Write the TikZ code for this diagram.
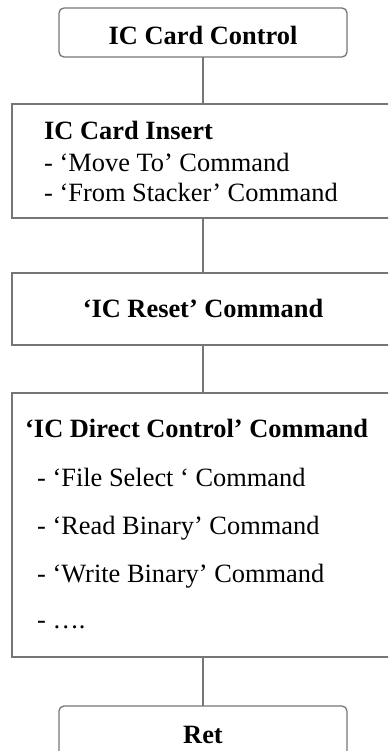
\documentclass[tikz,border=0pt]{standalone}
\usepackage{fontspec}
\setmainfont{Liberation Serif}
\definecolor{lc}{RGB}{118,118,118}
\begin{document}
\begin{tikzpicture}[x=1pt,y=-1pt,
  box/.style={draw=lc, line width=1.3pt, inner sep=0pt, outer sep=0pt, anchor=north west},
  rbox/.style={box, rounded corners=5pt},
  conn/.style={draw=lc, line width=1.3pt},
  txt/.style={inner sep=0pt, font=\fontsize{26.4}{30}\selectfont}]
\useasboundingbox (0,0) rectangle (388,751);
\clip (0,0) rectangle (388,751);
% boxes
\node[rbox, minimum width=288pt, minimum height=49pt] (b1) at (59,8) {};
\node[box, minimum width=420pt, minimum height=114pt] (b2) at (12,104) {};
\node[box, minimum width=420pt, minimum height=72pt] (b3) at (12,273) {};
\node[box, minimum width=420pt, minimum height=264pt] (b4) at (12,393) {};
\node[rbox, minimum width=288pt, minimum height=60pt] (b5) at (59,706) {};
% texts
\node[txt, anchor=base] (t1) at (203,45) {\bfseries IC Card Control};
\node[txt, anchor=base west] (t2a) at (44,140) {\bfseries IC Card Insert};
\node[txt, anchor=base west] (t2b) at (44,172) {- ‘Move To’ Command};
\node[txt, anchor=base west] (t2c) at (44,202) {- ‘From Stacker’ Command};
\node[txt, anchor=base] (t3) at (203,317) {\bfseries ‘IC Reset’ Command};
\node[txt, anchor=base west] (t4a) at (25,437) {\bfseries ‘IC Direct Control’ Command};
\node[txt, anchor=base west] (t4b) at (37,486) {- ‘File Select ‘ Command};
\node[txt, anchor=base west] (t4c) at (37,534) {- ‘Read Binary’ Command};
\node[txt, anchor=base west] (t4d) at (37,582) {- ‘Write Binary’ Command};
\node[txt, anchor=base west] (t4e) at (37,628) {- ….};
\node[txt, anchor=base] (t5) at (203,743) {\bfseries Ret};
% connectors
\draw[conn] (b1.south) -- (b1.south |- b2.north);
\draw[conn] (b1.south |- b2.south) -- (b1.south |- b3.north);
\draw[conn] (b1.south |- b3.south) -- (b1.south |- b4.north);
\draw[conn] (b1.south |- b4.south) -- (b5.north);
\end{tikzpicture}
\end{document}
